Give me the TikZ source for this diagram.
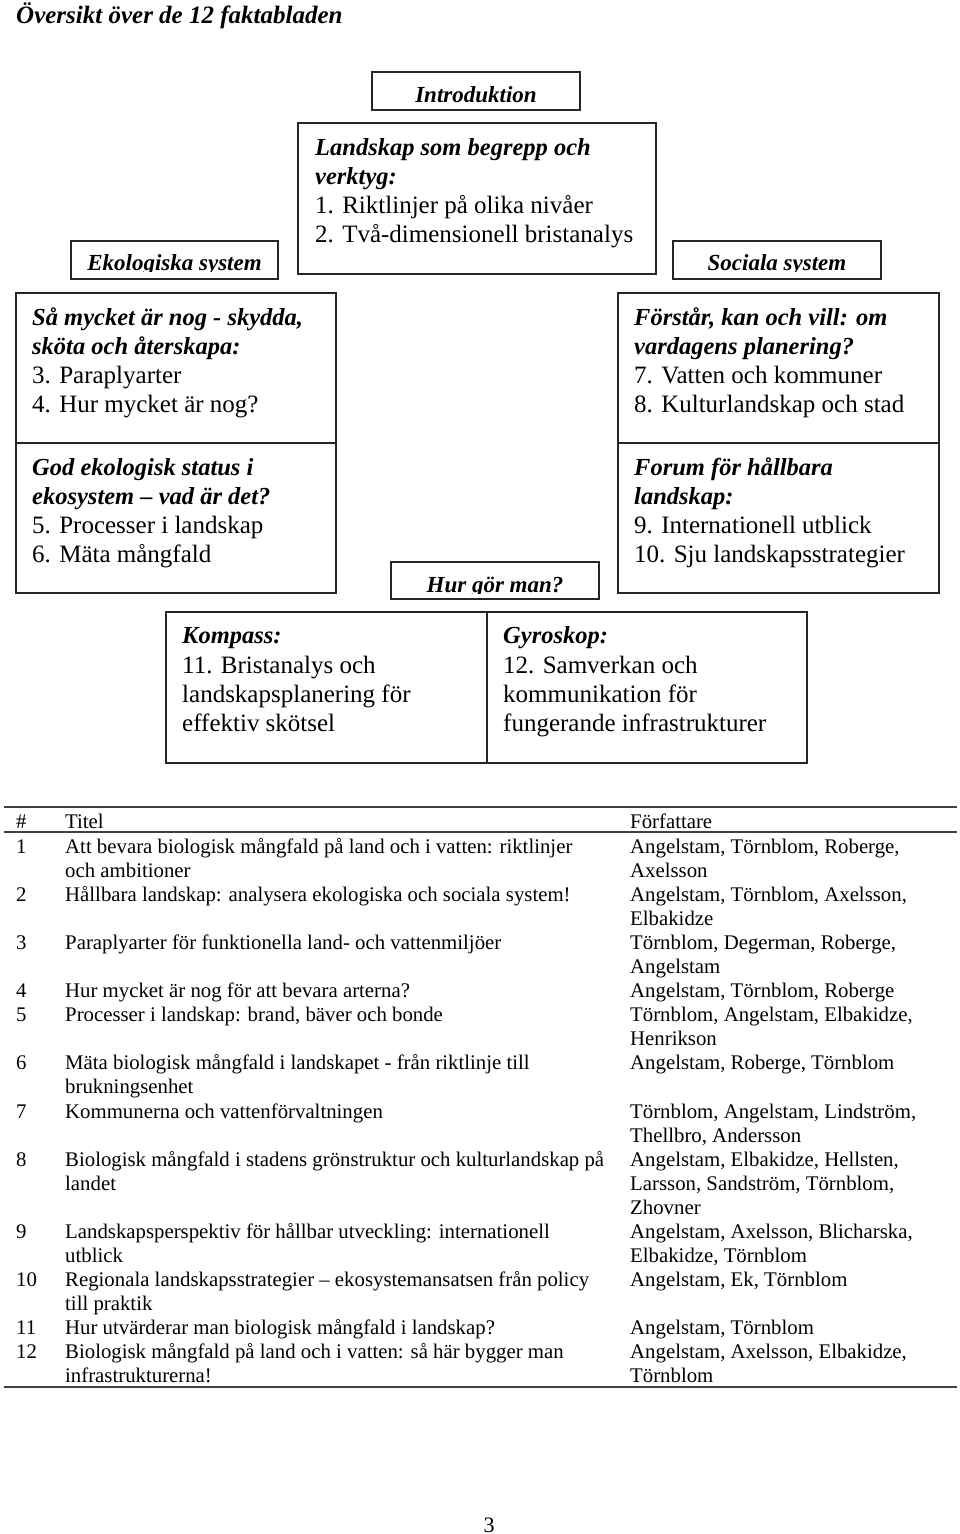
\documentclass[tikz,border=0pt]{standalone}
\usepackage{fontspec}
\setmainfont{Liberation Serif}
\begin{document}
\begin{tikzpicture}[x=1pt,y=-1pt,
  boxst/.style={draw=black!85, line width=1.6pt, inner sep=0pt, outer sep=0pt, anchor=north west},
  bt/.style={anchor=base west, inner sep=0pt, font=\fontsize{25}{29}\selectfont},
  bti/.style={anchor=base west, inner sep=0pt, font=\fontsize{24.5}{29}\selectfont\bfseries\itshape},
  lab/.style={anchor=base, inner sep=0pt, font=\fontsize{23}{27}\selectfont\bfseries\itshape},
  tt/.style={anchor=base west, inner sep=0pt, font=\fontsize{20.8}{24}\selectfont},
  rulest/.style={draw=black!75, line width=1.5pt}]
\useasboundingbox (0,0) rectangle (960,1534);

% title
\node[anchor=base west, inner sep=0pt, font=\fontsize{25}{30}\selectfont\bfseries\itshape] (title) at (16,23) {Översikt över de 12 faktabladen};

% Introduktion
\node[boxst, minimum width=208pt, minimum height=38pt] (intro) at (372,72) {};
\node[lab] (introt) at (476,102) {Introduktion};

% Landskap box
\node[boxst, minimum width=358pt, minimum height=151pt] (land) at (298,123) {};
\node[bti] (land1) at (315,155) {Landskap som begrepp och};
\node[bti] (land2) at (315,184) {verktyg:};
\node[bt] (land3) at (315,213) {1. Riktlinjer på olika nivåer};
\node[bt] (land4) at (315,242) {2. Två-dimensionell bristanalys};

% Ekologiska system
\node[boxst, minimum width=207pt, minimum height=38pt] (eko) at (71,241) {};
\begin{scope}
\clip (71,241) rectangle (278,271);
\node[lab] (ekot) at (174.5,270) {Ekologiska system};
\end{scope}

% Sociala system
\node[boxst, minimum width=208pt, minimum height=38pt] (soc) at (673,241) {};
\begin{scope}
\clip (673,241) rectangle (881,271);
\node[lab] (soct) at (777,270) {Sociala system};
\end{scope}

% left big boxes
\node[boxst, minimum width=320pt, minimum height=150pt] (lu) at (16,293) {};
\node[boxst, minimum width=320pt, minimum height=150pt] (ll) at (16,443) {};
\node[bti] (lu1) at (32,325) {Så mycket är nog - skydda,};
\node[bti] (lu2) at (32,354) {sköta och återskapa:};
\node[bt] (lu3) at (32,383) {3. Paraplyarter};
\node[bt] (lu4) at (32,412) {4. Hur mycket är nog?};
\node[bti] (ll1) at (32,475) {God ekologisk status i};
\node[bti] (ll2) at (32,504) {ekosystem – vad är det?};
\node[bt] (ll3) at (32,533) {5. Processer i landskap};
\node[bt] (ll4) at (32,562) {6. Mäta mångfald};

% right big boxes
\node[boxst, minimum width=321pt, minimum height=150pt] (ru) at (618,293) {};
\node[boxst, minimum width=321pt, minimum height=150pt] (rl) at (618,443) {};
\node[bti] (ru1) at (634,325) {Förstår, kan och vill: om};
\node[bti] (ru2) at (634,354) {vardagens planering?};
\node[bt] (ru3) at (634,383) {7. Vatten och kommuner};
\node[bt] (ru4) at (634,412) {8. Kulturlandskap och stad};
\node[bti] (rl1) at (634,475) {Forum för hållbara};
\node[bti] (rl2) at (634,504) {landskap:};
\node[bt] (rl3) at (634,533) {9. Internationell utblick};
\node[bt] (rl4) at (634,562) {10. Sju landskapsstrategier};

% Hur gör man?
\node[boxst, minimum width=208pt, minimum height=37pt] (hur) at (391,562) {};
\begin{scope}
\clip (391,562) rectangle (599,593);
\node[lab] (hurt) at (495,592) {Hur gör man?};
\end{scope}

% Kompass / Gyroskop
\node[boxst, minimum width=321pt, minimum height=151pt] (komp) at (166,612) {};
\node[boxst, minimum width=320pt, minimum height=151pt] (gyro) at (487,612) {};
\node[bti] (k1) at (182,643) {Kompass:};
\node[bt] (k2) at (182,673) {11. Bristanalys och};
\node[bt] (k3) at (182,702) {landskapsplanering för};
\node[bt] (k4) at (182,731) {effektiv skötsel};
\node[bti] (g1) at (503,643) {Gyroskop:};
\node[bt] (g2) at (503,673) {12. Samverkan och};
\node[bt] (g3) at (503,702) {kommunikation för};
\node[bt] (g4) at (503,731) {fungerande infrastrukturer};

% table
\coordinate (r1a) at (4,807); \coordinate (r1b) at (957,807);
\coordinate (r2a) at (4,832); \coordinate (r2b) at (957,832);
\coordinate (r3a) at (4,1387); \coordinate (r3b) at (957,1387);
\draw[rulest] (r1a) -- (r1b);
\draw[rulest] (r2a) -- (r2b);
\draw[rulest] (r3a) -- (r3b);
\node[tt] (hnum) at (16,828) {\#};
\node[tt] (htit) at (65,828) {Titel};
\node[tt] (haut) at (630,828) {Författare};

\foreach \i/\n in {0/1,2/2,4/3,6/4,7/5,9/6,11/7,13/8,16/9,18/10,20/11,21/12}
  \node[tt] (num\i) at (16,{853+24.09*\i}) {\n};

\foreach \i/\t in {
  0/{Att bevara biologisk mångfald på land och i vatten: riktlinjer},
  1/{och ambitioner},
  2/{Hållbara landskap: analysera ekologiska och sociala system!},
  4/{Paraplyarter för funktionella land- och vattenmiljöer},
  6/{Hur mycket är nog för att bevara arterna?},
  7/{Processer i landskap: brand, bäver och bonde},
  9/{Mäta biologisk mångfald i landskapet - från riktlinje till},
  10/{brukningsenhet},
  11/{Kommunerna och vattenförvaltningen},
  13/{Biologisk mångfald i stadens grönstruktur och kulturlandskap på},
  14/{landet},
  16/{Landskapsperspektiv för hållbar utveckling: internationell},
  17/{utblick},
  18/{Regionala landskapsstrategier – ekosystemansatsen från policy},
  19/{till praktik},
  20/{Hur utvärderar man biologisk mångfald i landskap?},
  21/{Biologisk mångfald på land och i vatten: så här bygger man},
  22/{infrastrukturerna!}}
  \node[tt] (tit\i) at (65,{853+24.09*\i}) {\t};

\foreach \i/\a in {
  0/{Angelstam, Törnblom, Roberge,},
  1/{Axelsson},
  2/{Angelstam, Törnblom, Axelsson,},
  3/{Elbakidze},
  4/{Törnblom, Degerman, Roberge,},
  5/{Angelstam},
  6/{Angelstam, Törnblom, Roberge},
  7/{Törnblom, Angelstam, Elbakidze,},
  8/{Henrikson},
  9/{Angelstam, Roberge, Törnblom},
  11/{Törnblom, Angelstam, Lindström,},
  12/{Thellbro, Andersson},
  13/{Angelstam, Elbakidze, Hellsten,},
  14/{Larsson, Sandström, Törnblom,},
  15/{Zhovner},
  16/{Angelstam, Axelsson, Blicharska,},
  17/{Elbakidze, Törnblom},
  18/{Angelstam, Ek, Törnblom},
  20/{Angelstam, Törnblom},
  21/{Angelstam, Axelsson, Elbakidze,},
  22/{Törnblom}}
  \node[tt] (aut\i) at (630,{853+24.09*\i}) {\a};

% page number
\node[anchor=base, inner sep=0pt, font=\fontsize{22}{26}\selectfont] (pg) at (489,1532) {3};
\end{tikzpicture}
\end{document}
